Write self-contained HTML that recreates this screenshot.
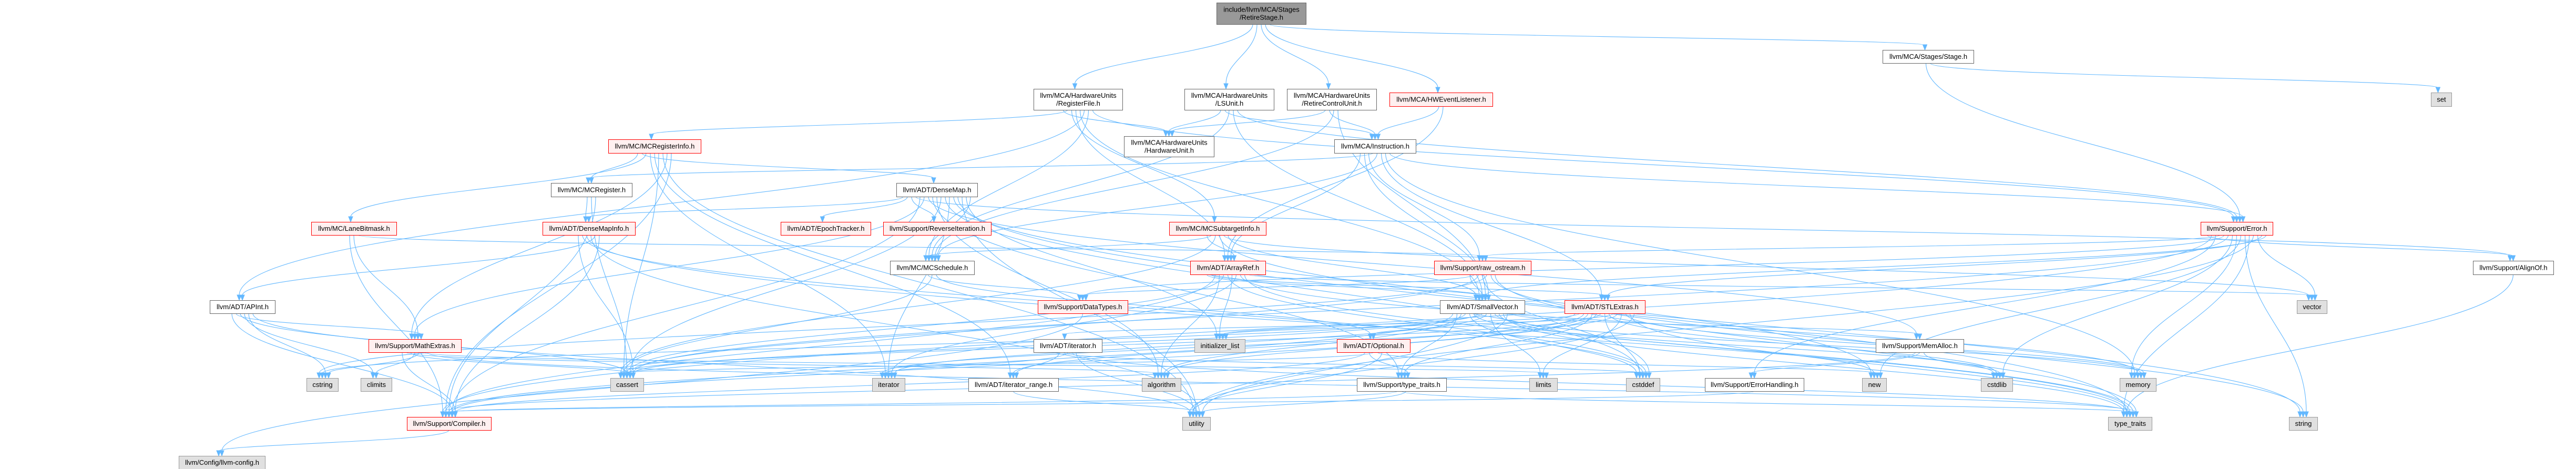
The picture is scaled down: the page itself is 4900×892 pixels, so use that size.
<!DOCTYPE html>
<html><head><meta charset="utf-8">
<style>
html,body{margin:0;padding:0;background:#fff;}
svg{display:block;}
text{font-family:"Liberation Sans",Arial,sans-serif;font-size:13px;fill:#000;}
</style></head>
<body>
<svg id="g" width="4900" height="892" viewBox="0 0 4900 892" xmlns="http://www.w3.org/2000/svg">
<g id="edges" fill="none" stroke="#63b8ff" stroke-width="1.1"></g>
<g id="heads" fill="#63b8ff" stroke="#63b8ff"></g>
<g id="nodes"></g>
</svg>
<script>
var N={
top:[2314,2484,5,46,'t','include/llvm/MCA/Stages|/RetireStage.h'],
RF:[1966,2135,169,209,'n','llvm/MCA/HardwareUnits|/RegisterFile.h'],
LSU:[2253,2423,169,209,'n','llvm/MCA/HardwareUnits|/LSUnit.h'],
RCU:[2448,2618,169,209,'n','llvm/MCA/HardwareUnits|/RetireControlUnit.h'],
HWE:[2643,2839,176,202,'r','llvm/MCA/HWEventListener.h'],
Stage:[3581,3754,95,120,'n','llvm/MCA/Stages/Stage.h'],
set:[4624,4663,176,202,'s','set'],
HU:[2138,2309,259,298,'n','llvm/MCA/HardwareUnits|/HardwareUnit.h'],
Inst:[2538,2693,265,291,'n','llvm/MCA/Instruction.h'],
MCRI:[1157,1333,265,291,'r','llvm/MC/MCRegisterInfo.h'],
MCR:[1048,1202,348,374,'n','llvm/MC/MCRegister.h'],
DM:[1705,1859,348,374,'n','llvm/ADT/DenseMap.h'],
Err:[4186,4323,422,447,'r','llvm/Support/Error.h'],
LB:[592,754,422,447,'r','llvm/MC/LaneBitmask.h'],
DMI:[1032,1208,422,447,'r','llvm/ADT/DenseMapInfo.h'],
ET:[1485,1656,422,447,'r','llvm/ADT/EpochTracker.h'],
RI:[1680,1885,422,447,'r','llvm/Support/ReverseIteration.h'],
MCSI:[2224,2408,422,447,'r','llvm/MC/MCSubtargetInfo.h'],
MCS:[1693,1853,496,522,'n','llvm/MC/MCSchedule.h'],
AR:[2264,2407,496,522,'r','llvm/ADT/ArrayRef.h'],
RO:[2728,2912,496,522,'r','llvm/Support/raw_ostream.h'],
AO:[4704,4857,496,522,'n','llvm/Support/AlignOf.h'],
API:[399,523,571,596,'n','llvm/ADT/APInt.h'],
DT:[1974,2145,571,596,'r','llvm/Support/DataTypes.h'],
SV:[2739,2900,571,596,'n','llvm/ADT/SmallVector.h'],
STL:[2976,3129,571,596,'r','llvm/ADT/STLExtras.h'],
vec:[4369,4426,571,596,'s','vector'],
ME:[701,877,645,670,'r','llvm/Support/MathExtras.h'],
ITH:[1966,2096,645,670,'n','llvm/ADT/iterator.h'],
IL:[2272,2368,645,670,'s','initializer_list'],
OPT:[2543,2682,645,670,'r','llvm/ADT/Optional.h'],
MA:[3568,3735,645,670,'n','llvm/Support/MemAlloc.h'],
cstring:[583,643,719,744,'s','cstring'],
climits:[686,745,719,744,'s','climits'],
cassert:[1161,1224,719,744,'s','cassert'],
iter:[1659,1721,719,744,'s','iterator'],
IR:[1842,2013,719,744,'n','llvm/ADT/iterator_range.h'],
alg:[2172,2246,719,744,'s','algorithm'],
TTH:[2581,2751,719,744,'n','llvm/Support/type_traits.h'],
limits:[2909,2962,719,744,'s','limits'],
cstddef:[3093,3157,719,744,'s','cstddef'],
EH:[3243,3431,719,744,'n','llvm/Support/ErrorHandling.h'],
new:[3542,3588,719,744,'s','new'],
cstdlib:[3768,3828,719,744,'s','cstdlib'],
memory:[4032,4101,719,744,'s','memory'],
Comp:[774,934,793,818,'r','llvm/Support/Compiler.h'],
utility:[2249,2302,793,818,'s','utility'],
tt:[4010,4093,793,818,'s','type_traits'],
string:[4354,4408,793,818,'s','string'],
cfg:[340,504,867,892,'s','llvm/Config/llvm-config.h']
};
var E={
top:['RF','LSU','RCU','HWE','Stage'],
RF:['HU','MCRI','MCSI','AR','SV','API','MCS','Err'],
LSU:['HU','Inst','MCS','SV','Err'],
RCU:['HU','Inst','MCS','SV'],
HWE:['Inst','AR'],
Stage:['Err','set'],
Inst:['AR','SV','RO','MCR','MCS','STL','memory','Err'],
MCRI:['MCR','DM','LB','iter','IR','cassert','utility','ME','Comp'],
MCR:['DMI','cassert','Comp'],
DM:['DMI','ET','RI','AO','Comp','ME','MA','TTH','alg','cassert','cstddef','iter','new','tt','utility','IL','MCS'],
DMI:['cassert','cstddef','tt','utility','API','Comp'],
LB:['Comp','ME','RO'],
MCSI:['AR','MCS','cassert','string','vec','SV'],
MCS:['DT','cassert','OPT'],
AR:['SV','STL','Comp','alg','cassert','cstddef','IL','iter','memory','tt','vec'],
RO:['SV','DT','cassert','cstddef','cstring','string','tt'],
SV:['Comp','TTH','alg','cassert','cstddef','cstdlib','cstring','IL','iter','limits','memory','new','tt','utility','MA'],
STL:['OPT','ITH','IR','Comp','TTH','alg','cassert','cstddef','cstdlib','IL','iter','limits','memory','tt','utility'],
OPT:['Comp','TTH','cassert','new','utility'],
ITH:['IR','cstddef','iter','tt','utility'],
IR:['utility'],
MA:['Comp','EH','cstdlib'],
EH:['Comp'],
TTH:['Comp','tt','utility'],
API:['Comp','ME','cassert','climits','cstring','utility'],
ME:['Comp','alg','cassert','climits','cstring','limits','tt'],
Comp:['cfg'],
Err:['AO','Comp','EH','RO','DT','cassert','cstdlib','memory','new','string','tt','utility','vec','STL','SV'],
AO:['tt'],
DT:['cfg']
};
var NS='http://www.w3.org/2000/svg';
var ge=document.getElementById('edges'),gh=document.getElementById('heads'),gn=document.getElementById('nodes');
function el(t,a,p){var e=document.createElementNS(NS,t);for(var k in a)e.setAttribute(k,a[k]);p.appendChild(e);return e;}
function cx(n){return (n[0]+n[1])/2;}
var cnt={};
for(var s in E){E[s].forEach(function(t,i){
 var a=N[s],b=N[t];var d,tx,ty,ang;
 var k=E[s].length, off=(i-(k-1)/2)*Math.min(8,(a[1]-a[0])/(k+1));
 if(b[2]>a[3]+5){
  var sx=cx(a)+off, sy=a[3];
  cnt[t]=(cnt[t]||0)+1;
  var toff=((cnt[t]%5)-2)*6;
  tx=cx(b)+toff; ty=b[2];
  var dy=ty-sy;
  var c1y=sy+dy*0.45, c2y=ty-dy*0.45;
  d='M'+sx+','+sy+' C'+sx+','+c1y+' '+tx+','+c2y+' '+tx+','+(ty-9);
  ang=Math.PI/2;
  var ex=tx,ey=ty;
  el('path',{d:d},ge);
  var p1=[ex,ey],p2=[ex-4,ey-10],p3=[ex+4,ey-10];
  el('polygon',{points:p1+' '+p2+' '+p3},gh);
 } else {
  var right = cx(b)>cx(a);
  var sx= right? a[1]:a[0], sy=(a[2]+a[3])/2;
  tx= right? b[0]:b[1]; ty=(b[2]+b[3])/2;
  var dx=tx-sx, ux=right?-9:9;
  d='M'+sx+','+sy+' C'+(sx+dx*0.4)+','+sy+' '+(tx-dx*0.4)+','+ty+' '+(tx+ux)+','+ty;
  el('path',{d:d},ge);
  el('polygon',{points:tx+','+ty+' '+(tx+ux)+','+(ty-4)+' '+(tx+ux)+','+(ty+4)},gh);
 }
});}
for(var k in N){var n=N[k];
 var st={n:['#ffffff','#666666'],r:['#fff0f0','#ff0000'],s:['#e0e0e0','#999999'],t:['#999999','#666666']}[n[4]];
 el('rect',{x:n[0]+.5,y:n[2]+.5,width:n[1]-n[0],height:n[3]-n[2],fill:st[0],stroke:st[1],'stroke-width':1},gn);
 var L=n[5].split('|');var mid=(n[2]+n[3])/2;
 L.forEach(function(s,i){var y=mid+(i-(L.length-1)/2)*15+4.5;
  var t=el('text',{x:cx(n)+.5,y:y,'text-anchor':'middle'},gn);t.textContent=s;});
}
</script>
</body></html>
